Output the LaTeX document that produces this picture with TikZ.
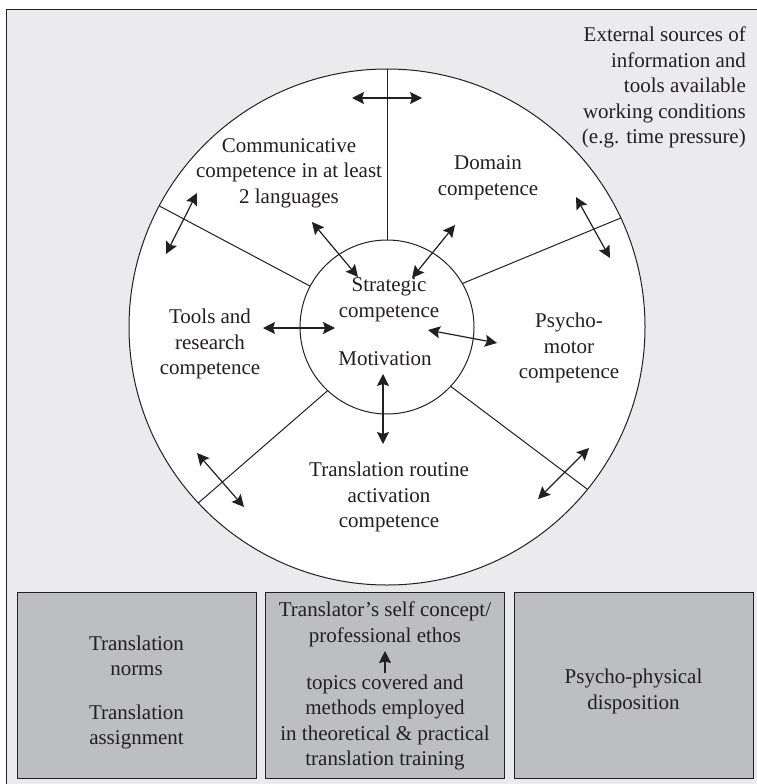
\documentclass[tikz,border=0pt]{standalone}
\usepackage{fontspec}
\setmainfont{Liberation Serif}
\usetikzlibrary{arrows.meta}
\definecolor{bgc}{HTML}{EBEBED}
\definecolor{boxc}{HTML}{BDBEC2}
\definecolor{ink}{HTML}{231F20}
\begin{document}
\begin{tikzpicture}[x=1pt,y=-1pt,
  txt/.style={align=center,inner sep=0pt,text=ink,font=\fontsize{21}{25.6}\selectfont},
  ring/.style={circle,draw=ink,line width=1pt,inner sep=0pt,outer sep=0pt},
  spoke/.style={draw=ink,line width=1pt},
  dbl/.style={draw=ink,line width=1.2pt,{Stealth[length=12pt,width=12pt,inset=2pt]}-{Stealth[length=12pt,width=12pt,inset=2pt]}},
  sgl/.style={draw=ink,line width=1.2pt,-{Stealth[length=12pt,width=12pt,inset=1.5pt]}},
  panel/.style={draw=ink,line width=1pt,fill=boxc}]
\useasboundingbox (0,0) rectangle (757,784);
\clip (0,0) rectangle (757,784);
\fill[white] (0,0) rectangle (757,784);
\draw[draw=ink,line width=1pt,fill=bgc] (6,10) rectangle (775,800);

% circles
\node[ring,fill=white,minimum size=516pt] (outer) at (387,327) {};
\node[ring,minimum size=174pt] (inner) at (387,327) {};

% spokes
\draw[spoke] (inner.90) -- (outer.90);
\draw[spoke] (inner.152) -- (outer.152);
\draw[spoke] (inner.30) -- (outer.25);
\draw[spoke] (inner.227) -- (outer.223);
\draw[spoke] (inner.-43) -- (outer.-39);

% texts
\node[txt,align=right,anchor=east] (ext) at (746,87.5) {External sources of\\information and\\tools available\\working conditions\\(e.g. time pressure)};
\node[txt] (comm) at (289,173) {Communicative\\competence in at least\\2 languages};
\node[txt] (domain) at (488,177.5) {Domain\\competence};
\node[txt] (strat) at (389,300) {Strategic\\competence};
\node[txt] (motiv) at (385,359) {Motivation};
\node[txt] (tools) at (210,344) {Tools and\\research\\competence};
\node[txt] (psycho) at (569,348) {Psycho-\\motor\\competence};
\node[txt] (routine) at (389,497) {Translation routine\\activation\\competence};

% arrow end points
\coordinate (t1) at (352,98);   \coordinate (t2) at (422,98);
\coordinate (ul1) at (197,193); \coordinate (ul2) at (166,254);
\coordinate (ur1) at (576,197); \coordinate (ur2) at (610,258);
\coordinate (ll1) at (197,453); \coordinate (ll2) at (244,507);
\coordinate (lr1) at (589,448); \coordinate (lr2) at (538,499);
\coordinate (cs1) at (312,222); \coordinate (cs2) at (358,277);
\coordinate (ds1) at (455,225); \coordinate (ds2) at (412,278);
\coordinate (ts1) at (263,328); \coordinate (ts2) at (335,328);
\coordinate (sp1) at (428,330); \coordinate (sp2) at (497,343);
\coordinate (mr1) at (383,374); \coordinate (mr2) at (383,444);

\draw[dbl] (t1) -- (t2);
\draw[dbl] (ul1) -- (ul2);
\draw[dbl] (ur1) -- (ur2);
\draw[dbl] (ll1) -- (ll2);
\draw[dbl] (lr1) -- (lr2);
\draw[dbl] (cs1) -- (cs2);
\draw[dbl] (ds1) -- (ds2);
\draw[dbl] (ts1) -- (ts2);
\draw[dbl] (sp1) -- (sp2);
\draw[dbl] (mr1) -- (mr2);

% bottom panels
\node[panel,minimum width=239pt,minimum height=186pt,inner sep=0pt] (b1) at (136.5,685) {};
\node[panel,minimum width=239pt,minimum height=186pt,inner sep=0pt] (b2) at (385,685) {};
\node[panel,minimum width=239pt,minimum height=186pt,inner sep=0pt] (b3) at (633.5,685) {};

\node[txt] (norms) at (136.5,656) {Translation\\norms};
\node[txt] (assign) at (136.5,727) {Translation\\assignment};
\node[txt] (ethos) at (385,624.5) {Translator’s self concept/\\professional ethos};
\node[txt] (topics) at (385,722.5) {topics covered and\\methods employed\\in theoretical \& practical\\translation training};
\node[txt] (disp) at (633.5,691.5) {Psycho-physical\\disposition};

\coordinate (e1) at (385,673);
\coordinate (e2) at (385,651);
\draw[sgl] (e1) -- (e2);
\end{tikzpicture}
\end{document}
